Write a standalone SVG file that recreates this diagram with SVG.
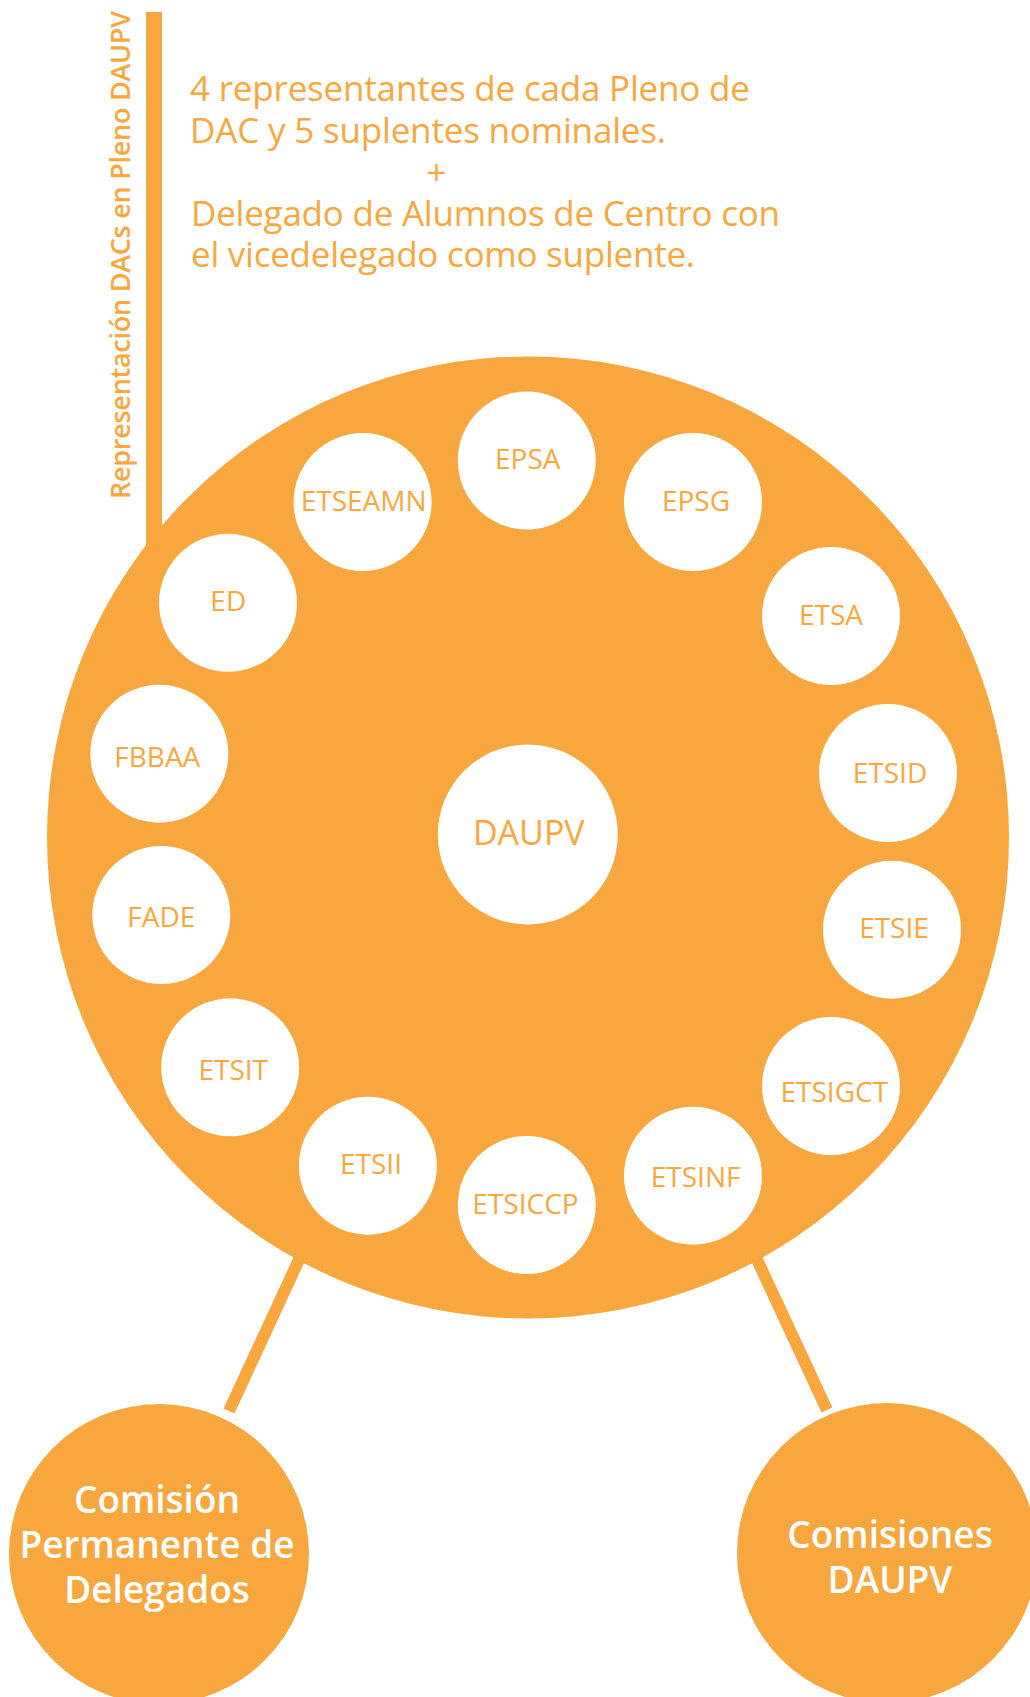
<svg xmlns="http://www.w3.org/2000/svg" width="1030" height="1697" viewBox="0 0 1030 1697">
<style>
.org{fill:#F8A73E}
.wc{fill:#FFFFFF}
.lbl{font-family:"Open Sans","Liberation Sans",sans-serif;font-size:28px;fill:#F8A73E;text-anchor:middle}
.big{font-family:"Open Sans","Liberation Sans",sans-serif;font-size:34px;fill:#F8A73E;text-anchor:middle}
.note{font-family:"Open Sans","Liberation Sans",sans-serif;font-size:35px;fill:#F8A73E}
.side{font-family:"Open Sans","Liberation Sans",sans-serif;font-size:27px;font-weight:600;fill:#F8A73E}
.com{font-family:"Open Sans","Liberation Sans",sans-serif;font-size:37px;font-weight:600;fill:#FFFFFF;text-anchor:middle}
.con{stroke:#F8A73E;stroke-width:12;fill:none;stroke-linecap:butt}
</style>
<rect width="1030" height="1697" fill="#FFFFFF"/>
<g id="connectors">
<rect x="146" y="12" width="16" height="560" class="org"/>
<line class="con" x1="229" y1="1411" x2="309" y2="1238"/>
<line class="con" x1="827" y1="1410" x2="747" y2="1238"/>
</g>
<g id="side-label">
<text class="side" transform="translate(129.5,499) rotate(-90)" textLength="488" lengthAdjust="spacing">Representación DACs en Pleno DAUPV</text>
</g>
<g id="note">
<text class="note" x="190" y="101" textLength="560" lengthAdjust="spacing">4 representantes de cada Pleno de</text>
<text class="note" x="190" y="142.5" textLength="476" lengthAdjust="spacing">DAC y 5 suplentes nominales.</text>
<text class="note" x="436.6" y="185" text-anchor="middle">+</text>
<text class="note" x="191" y="225.5" textLength="589" lengthAdjust="spacing">Delegado de Alumnos de Centro con</text>
<text class="note" x="191" y="267" textLength="504" lengthAdjust="spacing">el vicedelegado como suplente.</text>
</g>
<g id="pleno">
<circle cx="528" cy="837.5" r="481" class="org"/>
</g>
<g id="node-DAUPV"><circle cx="527.8" cy="834.5" r="90" class="wc"/><text class="big" x="528.8" y="845">DAUPV</text></g>
<g id="node-EPSA"><circle cx="526.8" cy="460.5" r="69" class="wc"/><text class="lbl" x="527.8" y="469">EPSA</text></g>
<g id="node-ETSEAMN"><circle cx="362.6" cy="502" r="69" class="wc"/><text class="lbl" x="363.6" y="510.5">ETSEAMN</text></g>
<g id="node-EPSG"><circle cx="693" cy="502" r="69" class="wc"/><text class="lbl" x="696" y="510.5">EPSG</text></g>
<g id="node-ED"><circle cx="228" cy="602.8" r="69" class="wc"/><text class="lbl" x="228.3" y="610.5">ED</text></g>
<g id="node-ETSA"><circle cx="831" cy="616" r="69" class="wc"/><text class="lbl" x="831" y="625">ETSA</text></g>
<g id="node-FBBAA"><circle cx="159.3" cy="753.7" r="69" class="wc"/><text class="lbl" x="157.3" y="767">FBBAA</text></g>
<g id="node-ETSID"><circle cx="888" cy="773" r="69" class="wc"/><text class="lbl" x="890" y="783">ETSID</text></g>
<g id="node-FADE"><circle cx="161.3" cy="915" r="69" class="wc"/><text class="lbl" x="161.3" y="926.5">FADE</text></g>
<g id="node-ETSIE"><circle cx="892" cy="929.7" r="69" class="wc"/><text class="lbl" x="894" y="938">ETSIE</text></g>
<g id="node-ETSIT"><circle cx="230.2" cy="1067.3" r="69" class="wc"/><text class="lbl" x="233.2" y="1080">ETSIT</text></g>
<g id="node-ETSIGCT"><circle cx="831" cy="1086" r="69" class="wc"/><text class="lbl" x="834.3" y="1101.5">ETSIGCT</text></g>
<g id="node-ETSII"><circle cx="367.9" cy="1165.7" r="69" class="wc"/><text class="lbl" x="371" y="1174">ETSII</text></g>
<g id="node-ETSICCP"><circle cx="526.8" cy="1205" r="69" class="wc"/><text class="lbl" x="525.5" y="1214">ETSICCP</text></g>
<g id="node-ETSINF"><circle cx="693" cy="1175.7" r="69" class="wc"/><text class="lbl" x="695.6" y="1186.5">ETSINF</text></g>
<g id="node-comision-permanente"><circle cx="159" cy="1554" r="150" class="org"/>
<text class="com" x="157" y="1513">Comisión</text>
<text class="com" x="157" y="1558">Permanente de</text>
<text class="com" x="157" y="1603">Delegados</text></g>
<g id="node-comisiones"><circle cx="887" cy="1553" r="150" class="org"/>
<text class="com" x="890" y="1548">Comisiones</text>
<text class="com" x="890" y="1593">DAUPV</text></g>
</svg>
